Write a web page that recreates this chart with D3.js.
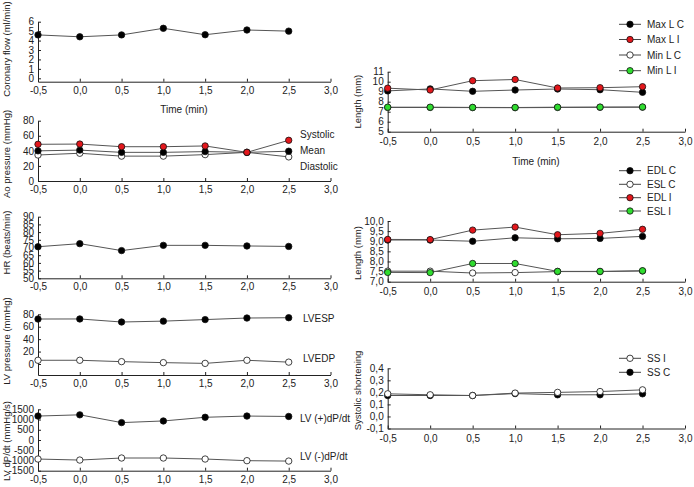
<!DOCTYPE html>
<html><head><meta charset="utf-8">
<script src="https://cdn.jsdelivr.net/npm/d3@7"></script>
<style>
body{margin:0;background:#fff;}
svg{display:block;font-family:"Liberation Sans",Arial,sans-serif;}
.axis path,.axis line{stroke:#222;stroke-width:1;}
.axis text{font-size:10px;fill:#222;font-family:"Liberation Sans",Arial,sans-serif;}
</style></head><body>
<svg id="c" width="694" height="487"></svg>
<script>
// ---- data ----
const times = [-0.5, 0, 0.5, 1.0, 1.5, 2.0, 2.5];
const timeTicks = [-0.5, 0, 0.5, 1.0, 1.5, 2.0, 2.5, 3.0];

const coronaryFlow = [4.6, 4.4, 4.6, 5.3, 4.62, 5.12, 5.0];
const flowTicks = [0, 1, 2, 3, 4, 5, 6];

const aoSystolic = [48.7, 49, 45.5, 45.5, 46.5, 38, 54];
const aoMean = [40, 41, 38, 38, 39, 38, 39.5];
const aoDiastolic = [34.5, 36.8, 33, 33, 35, 38, 32];
const aoTicks = [0, 20, 40, 60, 80];

const heartRate = [70.5, 72.5, 68, 71.4, 71.4, 71, 70.7];
const hrTicks = [50, 55, 60, 65, 70, 75, 80, 85, 90];

const lvesp = [72.4, 72.5, 67.6, 69, 71.5, 74, 74.5];
const lvedp = [6, 6, 3.8, 2.2, 1, 6, 3];
const lvpTicks = [0, 20, 40, 60, 80];

const dpdtPos = [1170, 1230, 850, 930, 1110, 1170, 1150];
const dpdtNeg = [-930, -980, -880, -880, -930, -1010, -1030];
const dpdtTicks = [-1500, -1000, -500, 0, 500, 1000, 1500];

const maxLC = [9.08, 9.28, 9.04, 9.17, 9.27, 9.2, 8.94];
const maxLI = [9.35, 9.17, 10.1, 10.22, 9.37, 9.4, 9.5];
const minLC = [7.42, 7.42, 7.41, 7.40, 7.42, 7.44, 7.45];
const minLI = [7.45, 7.45, 7.43, 7.42, 7.45, 7.46, 7.47];
const len1Ticks = [5, 6, 7, 8, 9, 10, 11];

const edlC = [9.06, 9.06, 9.0, 9.17, 9.12, 9.14, 9.24];
const eslC = [7.52, 7.52, 7.43, 7.45, 7.5, 7.5, 7.53];
const edlI = [9.09, 9.08, 9.55, 9.7, 9.32, 9.39, 9.59];
const eslI = [7.46, 7.45, 7.9, 7.9, 7.51, 7.51, 7.54];
const len2Ticks = [7.0, 7.5, 8.0, 8.5, 9.0, 9.5, 10.0];

const ssI = [0.188, 0.18, 0.174, 0.194, 0.2, 0.207, 0.221];
const ssC = [0.174, 0.174, 0.174, 0.19, 0.18, 0.18, 0.188];
const ssTicks = [-0.1, 0, 0.1, 0.2, 0.3, 0.4];

// ---- styles ----
const RED = "#e3171c", GREEN = "#2fdc2f", BLACK = "#000", WHITE = "#fff";
const svg = d3.select("#c");
const comma1 = d => d.toFixed(1).replace(".", ",");
const int0 = d => String(d);

function panel(o) {
  const x = d3.scaleLinear().domain([-0.5, 3.0]).range(o.xr);
  const y = d3.scaleLinear().domain(o.domain).range([o.yBot, o.yTop]);
  const g = svg.append("g");
  g.append("g").attr("class", "axis").attr("transform", `translate(0,${o.yBot})`)
    .call(d3.axisBottom(x).tickValues(timeTicks).tickFormat(comma1).tickSize(-3).tickSizeOuter(0).tickPadding(o.xPad))
    .call(a => a.selectAll("text").attr("dy", "0.71em"));
  g.append("g").attr("class", "axis").attr("transform", `translate(${x(-0.5)},0)`)
    .call(d3.axisLeft(y).tickValues(o.ticks).tickFormat(o.fmt).tickSize(-3).tickSizeOuter(0).tickPadding(4));
  // title
  g.append("text").attr("transform", `translate(${o.tx},${o.ty}) rotate(-90)`)
    .attr("text-anchor", "middle").attr("font-size", 9.5).attr("fill", "#222").text(o.title);
  const line = d3.line().x((d, i) => x(times[i])).y(d => y(d));
  o.series.forEach(s => {
    g.append("path").attr("d", line(s.v)).attr("fill", "none").attr("stroke", "#555").attr("stroke-width", 1);
  });
  o.series.forEach(s => {
    g.selectAll(null).data(s.v).enter().append("circle")
      .attr("cx", (d, i) => x(times[i])).attr("cy", d => y(d)).attr("r", 3.2)
      .attr("fill", s.c).attr("stroke", "#111").attr("stroke-width", 0.8);
  });
  return {x, y, g};
}

function label(x, y, t) {
  svg.append("text").attr("x", x).attr("y", y).attr("dy", "0.35em").attr("font-size", 10).attr("fill", "#222").text(t);
}
function legendItem(y, c, t) {
  svg.append("line").attr("x1", 619).attr("x2", 641).attr("y1", y).attr("y2", y).attr("stroke", "#444").attr("stroke-width", 1);
  svg.append("circle").attr("cx", 630).attr("cy", y).attr("r", 3.2).attr("fill", c).attr("stroke", "#111").attr("stroke-width", 0.8);
  svg.append("text").attr("x", 647).attr("y", y).attr("dy", "0.35em").attr("font-size", 10).attr("fill", "#222").text(t);
}

const LX = [38, 330.5], RX = [387.7, 685];

// Left column
panel({xr: LX, yTop: 21.7, yBot: 81.7, domain: [-0.36, 6], ticks: flowTicks, fmt: int0, xPad: 5,
  title: "Coronary flow (ml/min)", tx: 9.5, ty: 49, series: [{v: coronaryFlow, c: BLACK}]});
svg.append("text").attr("x", 184).attr("y", 109).attr("dy", "0.35em").attr("text-anchor", "middle")
  .attr("font-size", 10).attr("fill", "#222").text("Time (min)");

panel({xr: LX, yTop: 120.7, yBot: 181, domain: [0, 80], ticks: aoTicks, fmt: int0, xPad: 5,
  title: "Ao pressure (mmHg)", tx: 9.5, ty: 154,
  series: [{v: aoDiastolic, c: WHITE}, {v: aoMean, c: BLACK}, {v: aoSystolic, c: RED}]});
label(300, 134, "Systolic"); label(300, 150.5, "Mean"); label(300, 166, "Diastolic");

panel({xr: LX, yTop: 216.7, yBot: 278.3, domain: [50, 90], ticks: hrTicks, fmt: int0, xPad: 5,
  title: "HR (beats/min)", tx: 9.5, ty: 242.5, series: [{v: heartRate, c: BLACK}]});

panel({xr: LX, yTop: 314.3, yBot: 375, domain: [-17.7, 80], ticks: lvpTicks, fmt: int0, xPad: 5,
  title: "LV pressure (mmHg)", tx: 9.5, ty: 341,
  series: [{v: lvesp, c: BLACK}, {v: lvedp, c: WHITE}]});
label(303, 318.3, "LVESP"); label(303, 358.3, "LVEDP");

panel({xr: LX, yTop: 409.3, yBot: 470.7, domain: [-1500, 1500], ticks: dpdtTicks, fmt: int0, xPad: 5,
  title: "LV dP/dt (mmHg/s)", tx: 9.5, ty: 441,
  series: [{v: dpdtPos, c: BLACK}, {v: dpdtNeg, c: WHITE}]});
label(300, 418.3, "LV (+)dP/dt"); label(300, 456, "LV (-)dP/dt");

// Right column
panel({xr: RX, yTop: 71.7, yBot: 131.7, domain: [5, 11], ticks: len1Ticks, fmt: int0, xPad: 6,
  title: "Length (mm)", tx: 360.5, ty: 101.7,
  series: [{v: maxLC, c: BLACK}, {v: maxLI, c: RED}, {v: minLC, c: WHITE}, {v: minLI, c: GREEN}]});
svg.append("text").attr("x", 536).attr("y", 161).attr("dy", "0.35em").attr("text-anchor", "middle")
  .attr("font-size", 10).attr("fill", "#222").text("Time (min)");
legendItem(24.3, BLACK, "Max L C");
legendItem(39.5, RED, "Max L I");
legendItem(55, WHITE, "Min L C");
legendItem(70.7, GREEN, "Min L I");

panel({xr: RX, yTop: 221, yBot: 281.7, domain: [7, 10], ticks: len2Ticks, fmt: comma1, xPad: 6,
  title: "Length (mm)", tx: 360.5, ty: 253,
  series: [{v: edlC, c: BLACK}, {v: eslC, c: WHITE}, {v: edlI, c: RED}, {v: eslI, c: GREEN}]});
legendItem(170.7, BLACK, "EDL C");
legendItem(184.3, WHITE, "ESL C");
legendItem(197.7, RED, "EDL I");
legendItem(211, GREEN, "ESL I");

panel({xr: RX, yTop: 368.3, yBot: 428.5, domain: [-0.1, 0.4], ticks: ssTicks, fmt: comma1, xPad: 6,
  title: "Systolic shortening", tx: 360.5, ty: 390.5,
  series: [{v: ssC, c: BLACK}, {v: ssI, c: WHITE}]});
legendItem(358.3, WHITE, "SS I");
legendItem(372.3, BLACK, "SS C");
</script>
</body></html>
